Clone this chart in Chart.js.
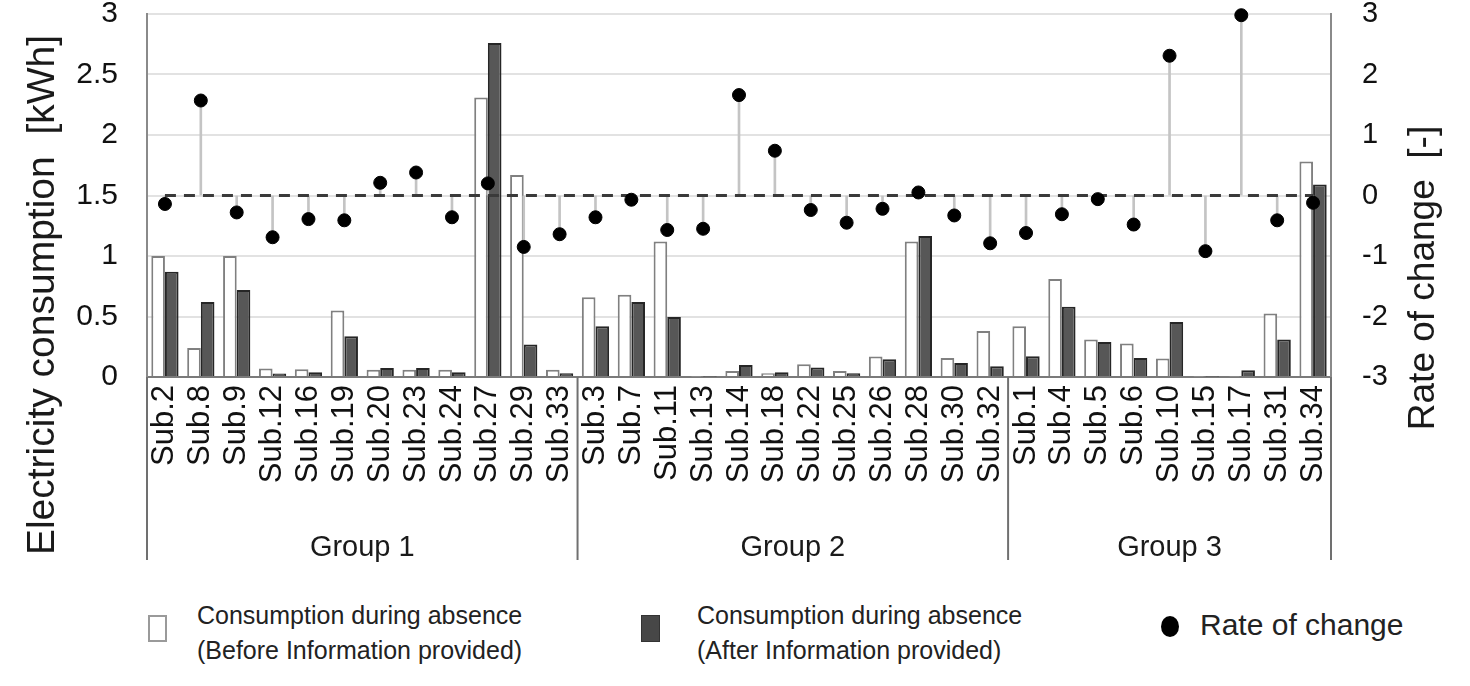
<!DOCTYPE html>
<html>
<head>
<meta charset="utf-8">
<title>Electricity consumption during absence</title>
<script src="https://cdn.jsdelivr.net/npm/chart.js@4.4.0/dist/chart.umd.min.js"></script>
<style>
  body { margin: 0; background: #fff; font-family: 'Liberation Sans', Arial, sans-serif; color: #1a1a1a; }
  #wrap { position: relative; width: 1470px; height: 590px; }
  #legend { position: relative; width: 1470px; height: 96px; }
  .mark { position: absolute; box-sizing: border-box; }
  .txt { position: absolute; white-space: nowrap; }
</style>
</head>
<body>
<div id="wrap"><canvas id="chart"></canvas></div>
<div id="legend"></div>
<script>
// Sub-groups and their members (x axis, left to right)
const GROUP_NAMES = ['Group 1', 'Group 2', 'Group 3'];
const GROUP_1 = ['Sub.2', 'Sub.8', 'Sub.9', 'Sub.12', 'Sub.16', 'Sub.19', 'Sub.20', 'Sub.23', 'Sub.24', 'Sub.27', 'Sub.29', 'Sub.33'];
const GROUP_2 = ['Sub.3', 'Sub.7', 'Sub.11', 'Sub.13', 'Sub.14', 'Sub.18', 'Sub.22', 'Sub.25', 'Sub.26', 'Sub.28', 'Sub.30', 'Sub.32'];
const GROUP_3 = ['Sub.1', 'Sub.4', 'Sub.5', 'Sub.6', 'Sub.10', 'Sub.15', 'Sub.17', 'Sub.31', 'Sub.34'];
const GROUPS = [GROUP_1, GROUP_2, GROUP_3];
const CATEGORIES = [...GROUP_1, ...GROUP_2, ...GROUP_3];

// Consumption during absence [kWh]
const BEFORE = [
  1.00, 0.24, 1.00, 0.07, 0.065, 0.55, 0.06, 0.06, 0.06, 2.31, 1.67, 0.06,
  0.66, 0.68, 1.12, 0.005, 0.05, 0.03, 0.105, 0.05, 0.17, 1.12, 0.157, 0.38,
  0.42, 0.81, 0.31, 0.276, 0.152, 0.005, 0.005, 0.524, 1.78
];
const AFTER = [
  0.87, 0.62, 0.72, 0.028, 0.04, 0.337, 0.074, 0.074, 0.04, 2.76, 0.268, 0.03,
  0.42, 0.62, 0.496, 0.005, 0.10, 0.04, 0.078, 0.03, 0.146, 1.166, 0.116, 0.088,
  0.171, 0.58, 0.29, 0.157, 0.455, 0.005, 0.055, 0.31, 1.59
];

// Rate of change [-]
const RATE = [
  -0.14, 1.57, -0.28, -0.69, -0.39, -0.41, 0.21, 0.38, -0.36, 0.20, -0.85, -0.64,
  -0.36, -0.07, -0.57, -0.55, 1.66, 0.74, -0.24, -0.45, -0.22, 0.05, -0.33, -0.79,
  -0.62, -0.31, -0.06, -0.48, 2.31, -0.92, 2.98, -0.41, -0.12
];
const RATE_BASE = 0;

// Axis ticks
const Y_MIN = 0, Y_MAX = 3, Y_STEP = 0.5;
const Y1_MIN = -3, Y1_MAX = 3, Y1_STEP = 1;

const Y_TITLE = 'Electricity consumption  [kWh]';
const Y1_TITLE = 'Rate of change  [-]';
const SERIES_LABELS = [
  ['Consumption during absence', '(Before Information provided)'],
  ['Consumption during absence', '(After Information provided)'],
  ['Rate of change']
];

const FONT = "'Liberation Sans', Arial, sans-serif";

// group row, outer frame and rotated axis titles
const extrasPlugin = {
  id: 'extras',
  afterDraw(chart) {
    const { ctx, chartArea, scales: { x } } = chart;
    const rowBottom = 560;
    ctx.save();
    ctx.strokeStyle = '#707070';
    ctx.lineWidth = 2;
    ctx.beginPath();
    ctx.moveTo(chartArea.left, chartArea.bottom);
    ctx.lineTo(chartArea.left, rowBottom);
    ctx.moveTo(chartArea.right, chartArea.bottom);
    ctx.lineTo(chartArea.right, rowBottom);
    ctx.stroke();

    ctx.fillStyle = '#1a1a1a';
    ctx.font = `29px ${FONT}`;
    ctx.textAlign = 'center';
    ctx.textBaseline = 'middle';
    let start = 0;
    GROUPS.forEach((members, g) => {
      const end = start + members.length;
      const left = start === 0 ? chartArea.left : (x.getPixelForValue(start - 1) + x.getPixelForValue(start)) / 2;
      const right = end === CATEGORIES.length ? chartArea.right : (x.getPixelForValue(end - 1) + x.getPixelForValue(end)) / 2;
      if (end < CATEGORIES.length) {
        ctx.beginPath();
        ctx.moveTo(right, chartArea.bottom);
        ctx.lineTo(right, rowBottom);
        ctx.stroke();
      }
      ctx.fillText(GROUP_NAMES[g], (left + right) / 2, 548);
      start = end;
    });

    // axis titles, both read bottom to top
    ctx.font = `39px ${FONT}`;
    ctx.save();
    ctx.translate(43, 295);
    ctx.rotate(-Math.PI / 2);
    ctx.fillText(Y_TITLE, 0, 0);
    ctx.restore();
    ctx.font = `37px ${FONT}`;
    ctx.translate(1424, 278);
    ctx.rotate(-Math.PI / 2);
    ctx.fillText(Y1_TITLE, 0, 0);
    ctx.restore();
  }
};

// keep the plot top at the upper tick instead of tick padding + half label
const fitTop = s => { s.paddingTop = 14; s.paddingBottom = 0; };

const ctx = document.getElementById('chart').getContext('2d');
new Chart(ctx, {
  data: {
    labels: CATEGORIES,
    datasets: [
      {
        type: 'bar',
        label: SERIES_LABELS[0].join(' '),
        data: BEFORE,
        yAxisID: 'y',
        backgroundColor: '#ffffff',
        borderColor: '#808080',
        borderWidth: 2,
        categoryPercentage: 0.76,
        barPercentage: 1,
        order: 3
      },
      {
        type: 'bar',
        label: SERIES_LABELS[1].join(' '),
        data: AFTER,
        yAxisID: 'y',
        backgroundColor: '#575757',
        borderColor: '#262626',
        borderWidth: 2,
        categoryPercentage: 0.76,
        barPercentage: 1,
        order: 3
      },
      {
        // stems from the zero line to each rate point
        type: 'bar',
        label: 'stem',
        data: RATE.map(r => [RATE_BASE, r]),
        yAxisID: 'y1',
        grouped: false,
        barThickness: 2,
        backgroundColor: '#c4c4c4',
        borderWidth: 0,
        order: 2
      },
      {
        type: 'line',
        label: 'zero',
        data: CATEGORIES.map(() => RATE_BASE),
        yAxisID: 'y1',
        borderColor: '#3a3a3a',
        borderWidth: 3,
        borderDash: [11, 8],
        pointRadius: 0,
        order: 1
      },
      {
        type: 'line',
        label: SERIES_LABELS[2].join(' '),
        data: RATE,
        yAxisID: 'y1',
        showLine: false,
        pointRadius: 6.5,
        pointBackgroundColor: '#000',
        pointBorderColor: '#000',
        clip: false,
        order: 0
      }
    ]
  },
  options: {
    responsive: true,
    maintainAspectRatio: false,
    animation: false,
    layout: { padding: 0 },
    plugins: {
      legend: { display: false },
      tooltip: { enabled: false }
    },
    scales: {
      x: {
        type: 'category',
        offset: true,
        grid: { display: false, drawTicks: false },
        border: { display: true, color: '#7a7a7a', width: 2 },
        ticks: {
          autoSkip: false,
          minRotation: 90,
          maxRotation: 90,
          padding: 8,
          color: '#111',
          font: { family: FONT, size: 31 }
        },
        afterFit: s => { s.height = 213; }
      },
      y: {
        position: 'left',
        min: Y_MIN,
        max: Y_MAX,
        grid: { color: '#e2e2e2', lineWidth: 2, drawTicks: false },
        border: { display: true, color: '#8a8a8a', width: 2 },
        ticks: {
          stepSize: Y_STEP,
          padding: 29,
          color: '#111',
          font: { family: FONT, size: 30, lineHeight: 0.9 },
          callback: v => String(v)
        },
        afterFit: s => { s.width = 147; fitTop(s); }
      },
      y1: {
        position: 'right',
        min: Y1_MIN,
        max: Y1_MAX,
        grid: { drawOnChartArea: false, drawTicks: false },
        border: { display: true, color: '#8a8a8a', width: 2 },
        ticks: {
          stepSize: Y1_STEP,
          padding: 31,
          color: '#111',
          font: { family: FONT, size: 29, lineHeight: 0.9 },
          callback: v => String(v)
        },
        afterFit: s => { s.width = 139; fitTop(s); }
      }
    }
  },
  plugins: [extrasPlugin]
});

// legend below the chart
const legend = document.getElementById('legend');
const legendItems = [
  { label: SERIES_LABELS[0], mark: 'left:148px;top:25px;width:19px;height:27px;border:2px solid #9a9a9a;background:#fff;', tx: 197, ty: 8, size: 25 },
  { label: SERIES_LABELS[1], mark: 'left:641px;top:25px;width:19px;height:27px;background:#474747;border:1px solid #333;', tx: 697, ty: 8, size: 25 },
  { label: SERIES_LABELS[2], mark: 'left:1161px;top:26px;width:18px;height:21px;border-radius:50%;background:#000;', tx: 1200, ty: 17, size: 30 }
];
legendItems.forEach(item => {
  const m = document.createElement('div');
  m.className = 'mark';
  m.style.cssText = item.mark;
  legend.appendChild(m);
  const t = document.createElement('div');
  t.className = 'txt';
  t.style.cssText = `left:${item.tx}px;top:${item.ty}px;font-size:${item.size}px;line-height:35px;color:#222;`;
  t.innerHTML = item.label.join('<br>');
  legend.appendChild(t);
});
</script>
</body>
</html>
